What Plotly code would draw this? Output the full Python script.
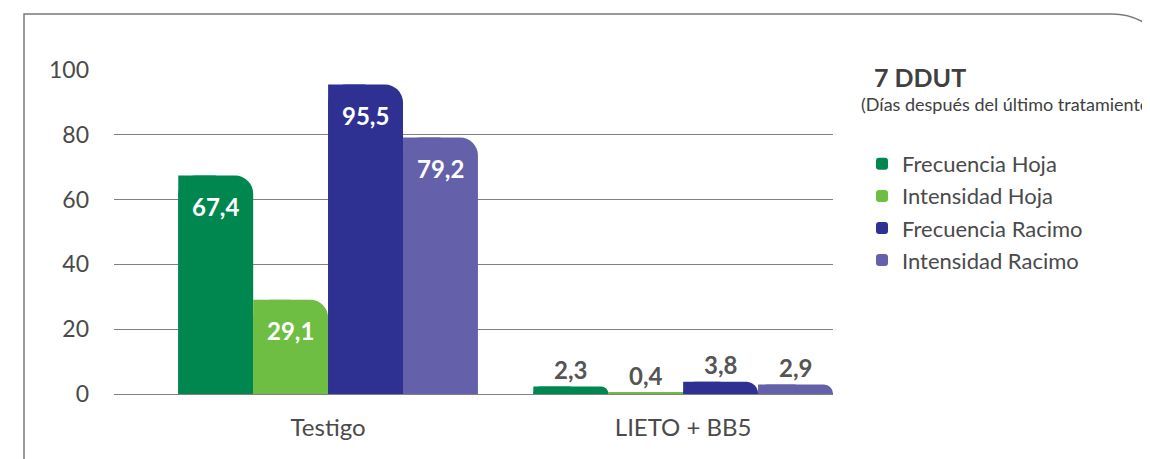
import plotly.graph_objects as go

categories = ["Testigo", "LIETO + BB5"]
series_names = ["Frecuencia Hoja", "Intensidad Hoja", "Frecuencia Racimo", "Intensidad Racimo"]
frecuencia_hoja = [67.4, 2.3]
intensidad_hoja = [29.1, 0.4]
frecuencia_racimo = [95.5, 3.8]
intensidad_racimo = [79.2, 2.9]
y_ticks = [0, 20, 40, 60, 80, 100]
title_text = "7 DDUT"
subtitle_text = "(Días después del último tratamiento)"

series_values = [frecuencia_hoja, intensidad_hoja, frecuencia_racimo, intensidad_racimo]
colors = ["#00874f", "#6fbe44", "#2e3192", "#6460aa"]

FONT = "Lato"
OFF = 8  # page body margin
W, H = 1150 - OFF, 459 - OFF
# plot area in page px, converted to figure px
L, R, T, B = 114 - OFF, 833 - OFF, 70 - OFF, 394 - OFF

bw = 0.211  # bar width in category units
xpos = list(range(len(categories)))

fig = go.Figure()
for j, (name, vals, col) in enumerate(zip(series_names, series_values, colors)):
    centers = [i + (j - 1.5) * bw for i in xpos]
    fig.add_trace(go.Bar(
        x=centers, y=vals, width=bw, name=name, legendgroup=name,
        marker=dict(color=col, line=dict(width=0), cornerradius=18),
        hoverinfo="skip",
    ))
    # square off the top-left corner
    fig.add_trace(go.Bar(
        x=[c - bw / 4 for c in centers], y=vals, width=bw / 2, name=name,
        legendgroup=name, showlegend=False,
        marker=dict(color=col, line=dict(width=0)), hoverinfo="skip",
    ))
    for c, v in zip(centers, vals):
        txt = f"{v:.1f}".replace(".", ",")
        if v > 10:
            fig.add_annotation(x=c, y=v, xref="x", yref="y", text=f"<b>{txt}</b>",
                               showarrow=False, yanchor="middle", yshift=-31,
                               font=dict(family=FONT, size=24, color="white"))
        else:
            fig.add_annotation(x=c, y=v, xref="x", yref="y", text=f"<b>{txt}</b>",
                               showarrow=False, yanchor="bottom", yshift=1,
                               font=dict(family=FONT, size=24, color="#555555"))

def px_x(p):
    p -= OFF
    return (p - L) / (R - L)

def px_y(p):
    p -= OFF
    return (B - p) / (B - T)

# frame: left line + top line with rounded top-right corner
frame_path = (f"M {px_x(24)},{px_y(470)} L {px_x(24)},{px_y(14)} L {px_x(1112)},{px_y(14)} "
              f"Q {px_x(1138)},{px_y(14)} {px_x(1160)},{px_y(34)}")
fig.add_shape(type="path", xref="paper", yref="paper", path=frame_path,
              line=dict(color="#7a7a7a", width=1.5))

fig.add_annotation(x=px_x(872), y=px_y(77), xref="paper", yref="paper", text=f"<b>{title_text}</b>",
                   showarrow=False, xanchor="left", yanchor="middle",
                   font=dict(family=FONT, size=25, color="#404040"))
fig.add_annotation(x=px_x(859), y=px_y(104), xref="paper", yref="paper", text=subtitle_text,
                   showarrow=False, xanchor="left", yanchor="middle",
                   font=dict(family=FONT, size=18, color="#404040"))

fig.update_layout(
    width=W, height=H,
    margin=dict(l=L, r=W - R, t=T, b=H - B, pad=0),
    paper_bgcolor="white", plot_bgcolor="white",
    barmode="overlay",
    font=dict(family=FONT, color="#4a4a4a"),
    legend=dict(x=px_x(862), y=px_y(143), xanchor="left", yanchor="top",
                font=dict(family=FONT, size=22, color="#4a4a4a"),
                traceorder="grouped", tracegroupgap=0.5, bgcolor="rgba(0,0,0,0)"),
    xaxis=dict(range=[-0.603, 1.422], tickvals=xpos, ticktext=categories,
               showgrid=False, zeroline=False, showline=False, ticks="",
               tickfont=dict(family=FONT, size=24, color="#4a4a4a"),
               ticklabelstandoff=17),
    yaxis=dict(range=[0, 100], tickvals=y_ticks, showgrid=True,
               gridcolor="#808080", gridwidth=1.2, zeroline=True, zerolinecolor="#808080",
               zerolinewidth=1.2, showline=False, ticks="",
               tickfont=dict(family=FONT, size=23, color="#4a4a4a"),
               ticklabelstandoff=24),
)

fig.write_html("out.html")
